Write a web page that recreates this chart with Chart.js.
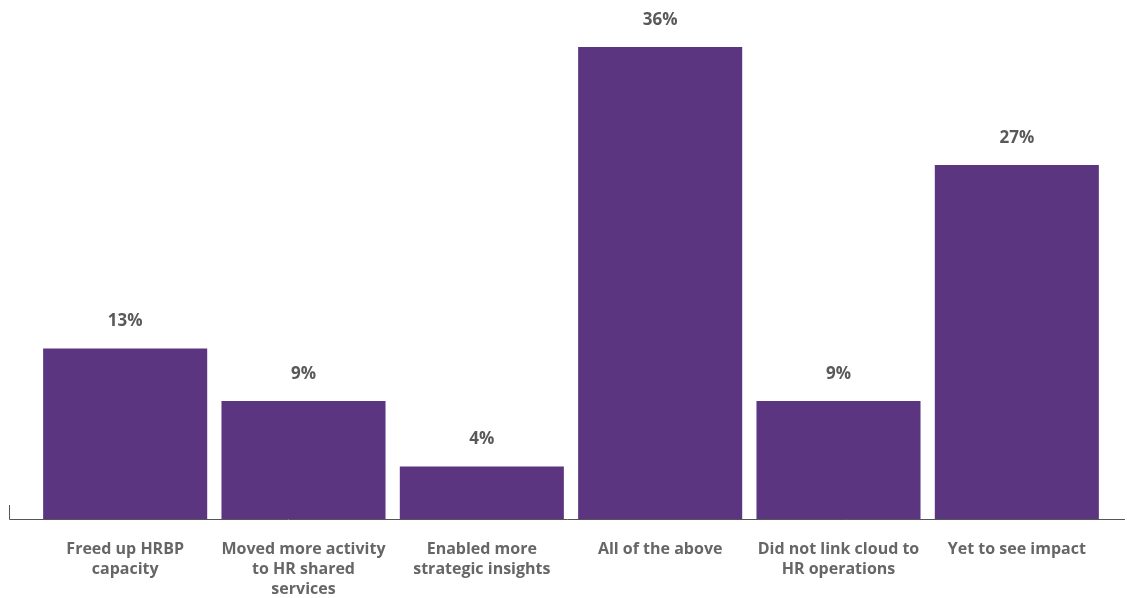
<!DOCTYPE html>
<html>
<head>
<meta charset="utf-8">
<script src="https://cdn.jsdelivr.net/npm/chart.js@4/dist/chart.umd.min.js"></script>
<style>
  body { margin: 0; background: #fff; }
  #wrap { width: 1127px; height: 598px; }
</style>
</head>
<body>
<div id="wrap"><canvas id="impactChart" width="1127" height="598"></canvas></div>
<script>
// Chart data
const categories = [
    ['Freed up HRBP', 'capacity'],
    ['Moved more activity', 'to HR shared', 'services'],
    ['Enabled more', 'strategic insights'],
    ['All of the above'],
    ['Did not link cloud to', 'HR operations'],
    ['Yet to see impact']
];
const shares = [13, 9, 4, 36, 9, 27];

// value labels above each bar
const valueLabels = {
    id: 'valueLabels',
    afterDatasetsDraw(chart) {
        const ctx = chart.ctx;
        const meta = chart.getDatasetMeta(0);
        ctx.save();
        ctx.fillStyle = '#595959';
        ctx.font = 'bold 17px "Open Sans"';
        ctx.textAlign = 'center';
        ctx.textBaseline = 'middle';
        meta.data.forEach(function(bar, i) {
            ctx.fillText(shares[i] + '%', bar.x, bar.y - 27);
        });
        ctx.restore();
    }
};

// baseline with small tick at the left end
const baseline = {
    id: 'baseline',
    afterDatasetsDraw(chart) {
        const ctx = chart.ctx;
        const y = chart.scales.y.getPixelForValue(0);
        ctx.save();
        ctx.strokeStyle = '#555';
        ctx.lineWidth = 1;
        ctx.beginPath();
        ctx.moveTo(9.5, y - 14);
        ctx.lineTo(9.5, y + 0.5);
        ctx.lineTo(1125, y + 0.5);
        ctx.stroke();
        ctx.restore();
    }
};

new Chart(document.getElementById('impactChart').getContext('2d'), {
    type: 'bar',
    data: {
        labels: categories,
        datasets: [{
            data: shares,
            backgroundColor: '#5c3580',
            categoryPercentage: 1,
            barPercentage: 0.92
        }]
    },
    options: {
        responsive: false,
        animation: false,
        layout: { padding: { left: 36, right: 21, top: 47, bottom: 0 } },
        plugins: {
            legend: { display: false },
            tooltip: { enabled: false }
        },
        scales: {
            y: { display: false, min: 0, max: 36 },
            x: {
                afterFit: function(scale) { scale.height = 79; },
                grid: { display: false, drawTicks: false },
                border: { display: false },
                ticks: {
                    color: '#666',
                    padding: 20,
                    maxRotation: 0,
                    autoSkip: false,
                    font: { family: 'Open Sans', size: 16, weight: 'bold', lineHeight: 1.25 }
                }
            }
        }
    },
    plugins: [valueLabels, baseline]
});
</script>
</body>
</html>
